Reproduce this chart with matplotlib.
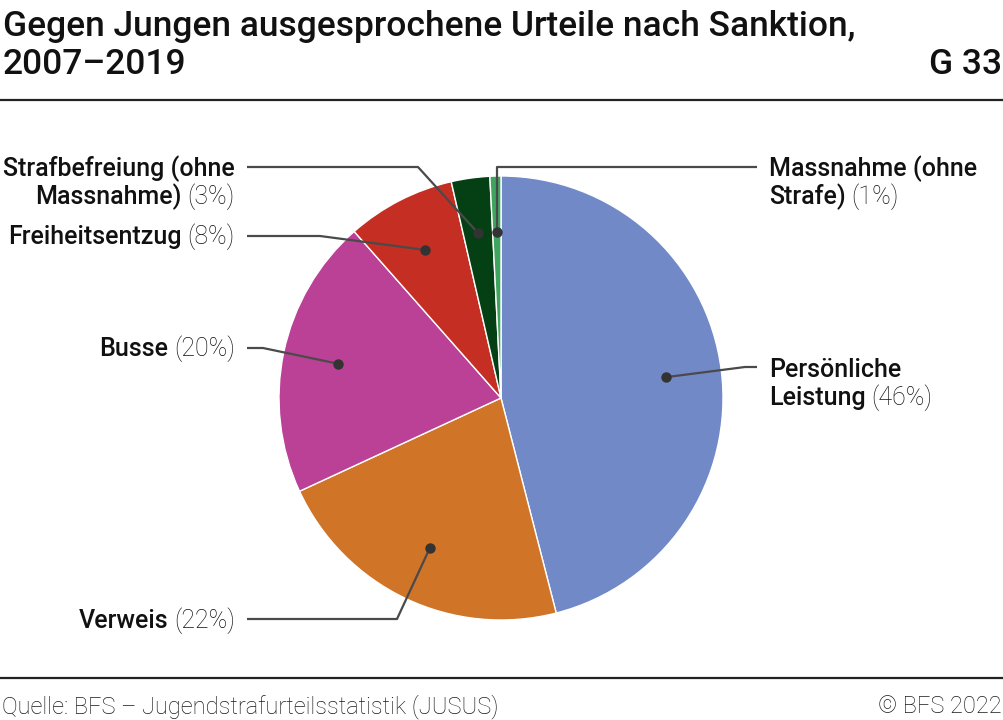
import matplotlib
matplotlib.use("Agg")
import matplotlib.pyplot as plt
import numpy as np

# Sanctions, order as drawn clockwise from 12 o'clock
categories = ["Persönliche Leistung", "Verweis", "Busse", "Freiheitsentzug",
              "Strafbefreiung (ohne Massnahme)", "Massnahme (ohne Strafe)"]
shares = [46.0, 22.1, 20.4, 7.9, 2.8, 0.8]
colors = ["#7189c7", "#d07427", "#ba4196", "#c52e23", "#053f14", "#3fa55e"]
# label text split into lines (bold part)
label_lines = [["Persönliche", "Leistung"], ["Verweis"], ["Busse"],
               ["Freiheitsentzug"], ["Strafbefreiung (ohne", "Massnahme)"],
               ["Massnahme (ohne", "Strafe)"]]

title_lines = ["Gegen Jungen ausgesprochene Urteile nach Sanktion,", "2007–2019"]
chart_id = "G 33"
source = "Quelle: BFS – Jugendstrafurteilsstatistik (JUSUS)"
copyright_note = "© BFS 2022"

plt.rcParams["font.family"] = ["Roboto", "DejaVu Sans"]

W, H = 1004, 720
fig = plt.figure(figsize=(W / 100, H / 100), dpi=100)
ax = fig.add_axes([0, 0, 1, 1])

# pie in pixel space (y grows downward)
cx, cy, R = 501, 398, 222
wedges, _ = ax.pie(shares, colors=colors, startangle=270, counterclock=True,
                   center=(cx, cy), radius=R,
                   wedgeprops=dict(edgecolor="white", linewidth=1.0))
ax.set_xlim(0, W)
ax.set_ylim(H, 0)
ax.set_aspect("auto")
ax.axis("off")

renderer = fig.canvas.get_renderer()

# label layout: text anchor x, first baseline y, alignment, leader path (elbow, end)
layout = [
    dict(x=769, y=377, ha="left", path=[(745, 367), (757, 367)]),
    dict(x=235, y=628, ha="right", path=[(397, 619), (247, 619)]),
    dict(x=235, y=356, ha="right", path=[(263, 348), (247, 348)]),
    dict(x=235, y=244, ha="right", path=[(320, 236), (247, 236)]),
    dict(x=235, y=176, ha="right", path=[(418, 167), (247, 167)]),
    dict(x=769, y=176, ha="left", path=[None, (757, 167)]),
]

FS = 18
LINE_H = 28.5
name_kw = dict(fontsize=FS, fontweight="medium", color="#111111", va="baseline")
pct_kw = dict(fontsize=FS, fontweight="light", color="#111111", va="baseline")


def text_width(t):
    bb = t.get_window_extent(renderer=renderer)
    return bb.width


for w, share, lines, lay in zip(wedges, shares, label_lines, layout):
    mid = np.deg2rad((w.theta1 + w.theta2) / 2)
    dx = cx + 0.75 * R * np.cos(mid)
    dy = cy + 0.75 * R * np.sin(mid)
    elbow, end = lay["path"]
    if elbow is None:
        elbow = (dx, end[1])
    ax.plot([dx, elbow[0], end[0]], [dy, elbow[1], end[1]], color="#4a4a4a",
            lw=1.6, solid_capstyle="butt", zorder=3)
    ax.plot(dx, dy, "o", color="#333333", ms=7.5, mec="none", zorder=4)

    pct = f"({round(share)}%)"
    x, y = lay["x"], lay["y"]
    for i, line in enumerate(lines):
        yb = y + i * LINE_H
        last = i == len(lines) - 1
        if lay["ha"] == "left":
            t = ax.text(x, yb, line, ha="left", **name_kw)
            if last:
                ax.text(x + text_width(t) + 6, yb, pct, ha="left", **pct_kw)
        else:
            if last:
                p = ax.text(x, yb, pct, ha="right", **pct_kw)
                ax.text(x - text_width(p) - 6, yb, line, ha="right", **name_kw)
            else:
                ax.text(x, yb, line, ha="right", **name_kw)

# header
TFS = 25.5
ax.text(3, 36, title_lines[0], fontsize=TFS, fontweight="medium", color="#111111",
        va="baseline", ha="left")
ax.text(3, 74, title_lines[1], fontsize=TFS, fontweight="medium", color="#111111",
        va="baseline", ha="left")
ax.text(1002, 74, chart_id, fontsize=TFS, fontweight="medium", color="#111111",
        va="baseline", ha="right")
ax.plot([0, W], [100, 100], color="#222222", lw=1.6, solid_capstyle="butt")

# footer
ax.plot([0, W], [678, 678], color="#222222", lw=1.6, solid_capstyle="butt")
ax.text(2, 713, source, fontsize=17, fontweight="light", color="#1a1a1a",
        va="baseline", ha="left")
ax.text(1002, 713, copyright_note, fontsize=17, fontweight="light", color="#1a1a1a",
        va="baseline", ha="right")

fig.savefig("out.png", dpi=100)
